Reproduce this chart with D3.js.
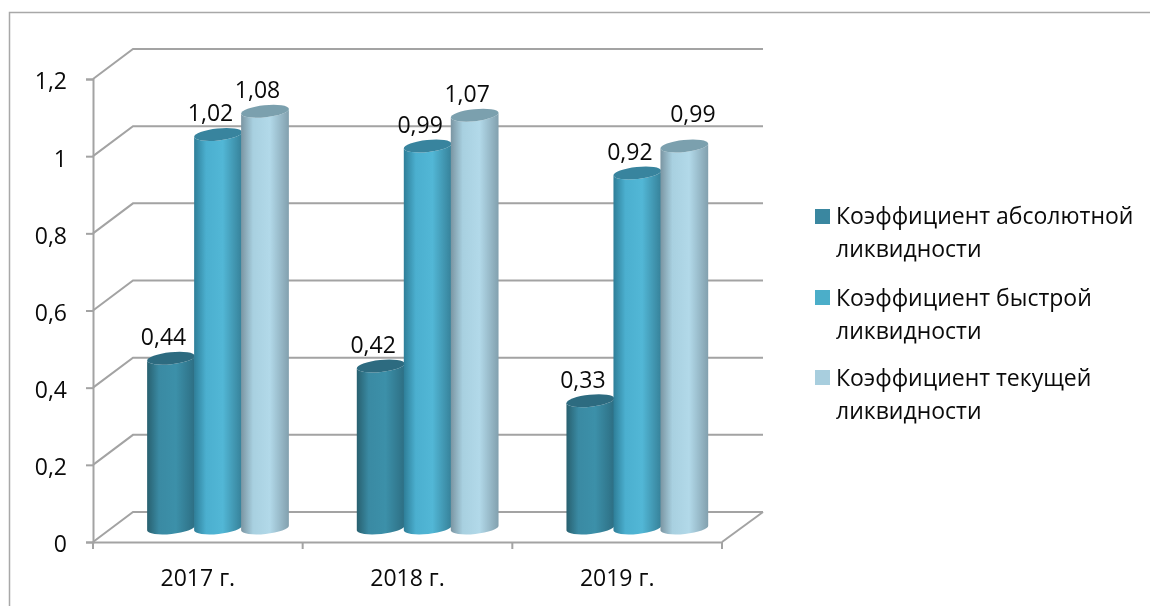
<!DOCTYPE html>
<html lang="ru">
<head>
<meta charset="utf-8">
<script src="https://cdn.jsdelivr.net/npm/d3@7/dist/d3.min.js"></script>
<style>
html,body{margin:0;padding:0;background:#fff}
svg{display:block;filter:blur(0.35px)}
text{font-family:"Open Sans","Noto Sans",sans-serif;fill:#0a0a0a}
</style>
</head>
<body>
<svg id="chart" width="1150" height="606"></svg>
<script>
const categories = ["2017 г.", "2018 г.", "2019 г."];
const seriesNames = ["abs", "quick", "cur"];
const legendLines = [
  ["Коэффициент абсолютной", "ликвидности"],
  ["Коэффициент быстрой", "ликвидности"],
  ["Коэффициент текущей", "ликвидности"]
];
const absValues = [0.44, 0.42, 0.33];
const quickValues = [1.02, 0.99, 0.92];
const curValues = [1.08, 1.07, 0.99];
const yTicks = [0, 0.2, 0.4, 0.6, 0.8, 1, 1.2];

const gradients = [
  ["#28606f", "#3a8aa3", "#3c90a9", "#2d6e83"],
  ["#2e7e98", "#4bafcf", "#52b7d6", "#368199"],
  ["#7a95a2", "#a8d0e0", "#b2d9e9", "#82a0ae"]
];
const capColors = ["#2d6b80", "#38849e", "#7ba0ae"];
const legendColors = ["#3a87a0", "#4baec9", "#a8cede"];
const gridColor = "#a3a3a3";
const fontSize = 23;

const svg = d3.select("#chart");
const y = d3.scaleLinear().domain([0, 1.2]).range([542, 79]);
const x = d3.scaleBand().domain(categories).range([93, 722]);
const inner = d3.scaleBand().domain(seriesNames).range([54, 195]);
const depthX = 40, depthY = 30;
const comma = v => String(v).replace(".", ",");

// frame
svg.append("path").attr("d", "M9.5,606V12.5H1150").attr("fill", "none")
  .attr("stroke", "#a8a8a8").attr("stroke-width", 1.5);

// walls and grid
const grid = svg.append("g").attr("fill", "none").attr("stroke", gridColor).attr("stroke-width", 2);
grid.selectAll("path.g").data(yTicks).join("path").attr("class", "g")
  .attr("d", t => `M${x.range()[0]},${y(t)}L${x.range()[0] + depthX},${y(t) - depthY}H${x.range()[1] + depthX + 1}`);
grid.append("path")
  .attr("d", `M${x.range()[1]},${y(0)}L${x.range()[1] + depthX + 1},${y(0) - depthY}`);

// axes
const yAxis = d3.axisLeft(y).tickValues(yTicks).tickSize(7).tickPadding(19).tickFormat(comma);
const yG = svg.append("g").attr("transform", `translate(${x.range()[0]},0)`).call(yAxis);
yG.selectAll("text").attr("dy", "0.43em");
const xAxis = d3.axisBottom(x).tickSize(0).tickPadding(28);
const xG = svg.append("g").attr("transform", `translate(0,${y(0)})`).call(xAxis);
[yG, xG].forEach(g => {
  g.selectAll("text").attr("font-size", fontSize).attr("font-family", '"Open Sans","Noto Sans",sans-serif').attr("fill", "#0a0a0a");
  g.selectAll("line,path.domain").attr("stroke", gridColor).attr("stroke-width", 2);
});
const boundaries = [x.range()[0]].concat(categories.map(c => x(c) + x.bandwidth()));
svg.append("g").selectAll("line").data(boundaries).join("line")
  .attr("x1", d => d).attr("x2", d => d).attr("y1", y(0)).attr("y2", y(0) + 7)
  .attr("stroke", gridColor).attr("stroke-width", 2);

// gradients
const defs = svg.append("defs");
gradients.forEach((stops, i) => {
  const lg = defs.append("linearGradient").attr("id", "grad" + i);
  [0, 0.25, 0.6, 1].forEach((o, j) => lg.append("stop").attr("offset", o).attr("stop-color", stops[j]));
});

// cylinders
const valuesBySeries = [absValues, quickValues, curValues];
const baseShift = y(0) - 528;
const tilt = 6, ry = 6;
const rad = tilt * Math.PI / 180;
seriesNames.forEach((s, si) => {
  const g = svg.append("g");
  valuesBySeries[si].forEach((v, ci) => {
    const left = x(categories[ci]) + inner(s);
    const rx = inner.bandwidth() / 2 + 0.5;
    const cx = left + rx;
    const top = y(v) - baseShift;
    const base = y(0) - baseShift;
    const dx = rx * Math.cos(rad), dy = rx * Math.sin(rad);
    g.append("path")
      .attr("d", `M${cx - dx},${top + dy}L${cx - dx},${base + dy}A${rx},${ry},${-tilt},0,0,${cx + dx},${base - dy}L${cx + dx},${top - dy}A${rx},${ry},${-tilt},0,1,${cx - dx},${top + dy}Z`)
      .attr("fill", `url(#grad${si})`);
    g.append("ellipse").attr("rx", rx).attr("ry", ry)
      .attr("transform", `translate(${cx},${top}) rotate(${-tilt})`)
      .attr("fill", capColors[si]);
  });
});

// data labels
const labels = svg.append("g").attr("font-size", fontSize).attr("text-anchor", "middle");
seriesNames.forEach((s, si) => {
  valuesBySeries[si].forEach((v, ci) => {
    const moved = si === 2 && ci === 2;
    const cx = x(categories[ci]) + inner(s) + inner.bandwidth() / 2;
    labels.append("text")
      .attr("x", cx + (moved ? 9 : -7))
      .attr("y", y(v) - baseShift + (moved ? -24 : -13))
      .text(comma(v));
  });
});

// legend
const legendY = [209, 290, 370];
const legend = svg.append("g");
legendLines.forEach((lines, i) => {
  legend.append("rect").attr("x", 815).attr("y", legendY[i]).attr("width", 15).attr("height", 15).attr("fill", legendColors[i]);
  lines.forEach((t, j) => legend.append("text").attr("x", 836)
    .attr("y", legendY[i] + 16 + j * 33 - (i === 0 ? 1 : 0)).attr("font-size", fontSize).text(t));
});
</script>
</body>
</html>
